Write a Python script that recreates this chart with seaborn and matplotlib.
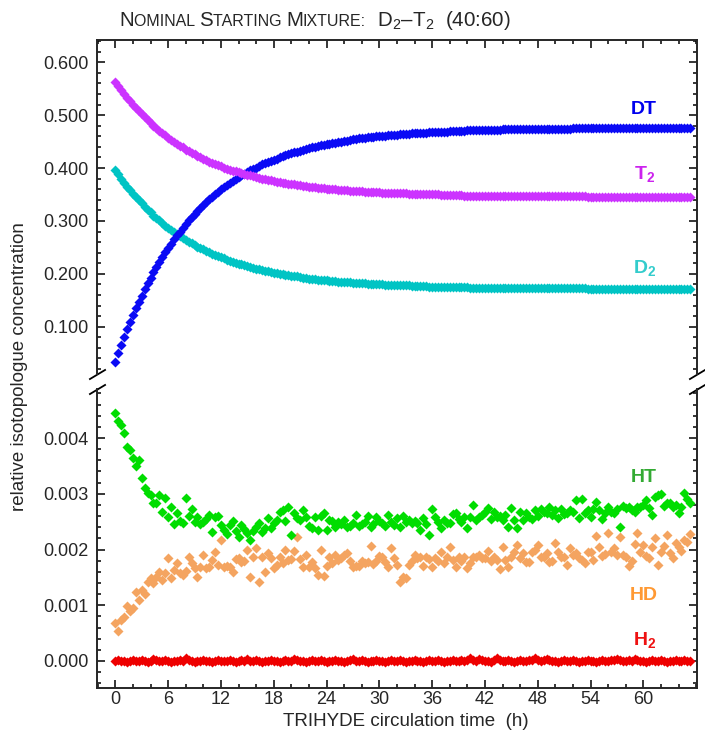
import numpy as np
import matplotlib
matplotlib.use('Agg')
import matplotlib.pyplot as plt
import seaborn as sns
from matplotlib import font_manager
from matplotlib.ticker import FixedLocator, MultipleLocator, FormatStrFormatter
from matplotlib.offsetbox import TextArea, HPacker, AnchoredOffsetbox

# relative concentrations, one sample every 20 minutes
# upper panel series in units of 0.001
dt_milli = [
    34, 50, 66, 81, 95, 109, 122, 135, 147, 159,
    171, 182, 193, 203, 213, 222, 232, 241, 249, 257,
    265, 273, 280, 287, 294, 301, 307, 313, 319, 325,
    331, 336, 341, 346, 350, 355, 360, 364, 368, 372,
    376, 379, 383, 386, 389, 392, 396, 399, 401, 404,
    407, 409, 412, 414, 416, 418, 420, 422, 424, 426,
    428, 430, 431, 433, 435, 436, 438, 439, 440, 442,
    443, 444, 445, 446, 447, 448, 449, 450, 451, 452,
    453, 454, 455, 456, 456, 457, 458, 458, 459, 460,
    460, 461, 461, 462, 462, 463, 463, 464, 464, 465,
    465, 466, 466, 466, 467, 467, 467, 468, 468, 468,
    469, 469, 469, 469, 470, 470, 470, 470, 470, 470,
    471, 471, 471, 471, 472, 472, 472, 472, 472, 472,
    472, 472, 473, 473, 473, 473, 473, 473, 473, 473,
    473, 473, 473, 474, 474, 474, 474, 474, 474, 474,
    474, 474, 474, 474, 474, 474, 475, 475, 475, 475,
    475, 475, 475, 475, 475, 475, 475, 475, 475, 475,
    475, 475, 475, 475, 475, 475, 476, 476, 476, 476,
    476, 476, 476, 476, 476, 476, 476, 476, 476, 476,
    476, 476, 476, 476, 476, 476, 476]

t2_milli = [
    563, 555, 548, 540, 533, 526, 520, 513, 507, 502,
    496, 490, 485, 480, 475, 470, 466, 462, 457, 453,
    450, 446, 442, 439, 435, 432, 429, 426, 423, 420,
    417, 415, 412, 410, 408, 405, 403, 401, 399, 397,
    395, 394, 392, 390, 389, 387, 386, 384, 383, 381,
    380, 379, 378, 377, 375, 374, 373, 372, 371, 370,
    370, 369, 368, 367, 366, 366, 365, 364, 364, 363,
    362, 362, 361, 361, 360, 360, 359, 359, 358, 358,
    357, 357, 356, 356, 356, 355, 355, 355, 354, 354,
    354, 353, 353, 353, 353, 352, 352, 352, 352, 352,
    351, 351, 351, 351, 351, 350, 350, 350, 350, 350,
    350, 349, 349, 349, 349, 349, 349, 349, 349, 348,
    348, 348, 348, 348, 348, 348, 348, 348, 348, 348,
    348, 347, 347, 347, 347, 347, 347, 347, 347, 347,
    347, 347, 347, 347, 347, 347, 347, 347, 347, 347,
    347, 347, 347, 347, 347, 347, 347, 347, 347, 347,
    347, 346, 346, 346, 346, 346, 346, 346, 346, 346,
    346, 346, 346, 346, 346, 346, 346, 346, 346, 346,
    346, 346, 346, 346, 346, 346, 346, 346, 346, 346,
    346, 346, 346, 346, 346, 346, 346]

d2_milli = [
    396, 388, 380, 372, 365, 358, 351, 345, 339, 333,
    327, 321, 316, 310, 305, 301, 296, 291, 287, 283,
    279, 275, 271, 268, 264, 261, 258, 254, 251, 249,
    246, 243, 241, 238, 236, 233, 231, 229, 227, 225,
    223, 221, 219, 218, 216, 214, 213, 211, 210, 209,
    207, 206, 205, 203, 202, 201, 200, 199, 198, 197,
    196, 195, 195, 194, 193, 192, 191, 191, 190, 189,
    189, 188, 188, 187, 186, 186, 185, 185, 184, 184,
    184, 183, 183, 182, 182, 182, 181, 181, 181, 180,
    180, 180, 179, 179, 179, 179, 178, 178, 178, 178,
    178, 177, 177, 177, 177, 177, 177, 176, 176, 176,
    176, 176, 175, 175, 175, 175, 175, 175, 175, 175,
    175, 174, 174, 174, 174, 174, 174, 174, 174, 174,
    174, 174, 174, 174, 174, 174, 173, 173, 173, 173,
    173, 173, 173, 173, 173, 173, 173, 173, 173, 173,
    173, 173, 173, 173, 173, 173, 173, 173, 173, 173,
    173, 172, 172, 172, 172, 172, 172, 172, 172, 172,
    172, 172, 172, 172, 172, 172, 172, 172, 172, 172,
    172, 172, 172, 172, 172, 172, 172, 172, 172, 172,
    172, 172, 172, 172, 172, 172, 172]

# lower panel series in units of 0.001 (H2 in units of 0.00001)
ht_milli = [
    4.45, 4.30, 4.24, 4.09, 3.84, 3.78, 3.64, 3.49, 3.60, 3.28, 3.10, 3.02,
    2.98, 2.83, 2.83, 2.98, 2.68, 2.92, 2.59, 2.77, 2.45, 2.65, 2.52, 2.47,
    2.92, 2.60, 2.72, 2.50, 2.59, 2.45, 2.50, 2.54, 2.62, 2.31, 2.59, 2.60,
    2.44, 2.35, 2.28, 2.44, 2.51, 2.33, 2.22, 2.44, 2.36, 2.30, 2.17, 2.33,
    2.40, 2.48, 2.32, 2.38, 2.56, 2.38, 2.47, 2.53, 2.68, 2.70, 2.52, 2.77,
    2.26, 2.65, 2.56, 2.53, 2.71, 2.59, 2.42, 2.38, 2.58, 2.35, 2.60, 2.66,
    2.35, 2.53, 2.52, 2.41, 2.50, 2.46, 2.53, 2.40, 2.42, 2.48, 2.62, 2.42,
    2.45, 2.50, 2.60, 2.41, 2.46, 2.59, 2.52, 2.48, 2.42, 2.62, 2.50, 2.44,
    2.56, 2.41, 2.60, 2.50, 2.53, 2.48, 2.52, 2.47, 2.35, 2.56, 2.45, 2.26,
    2.72, 2.59, 2.50, 2.38, 2.53, 2.47, 2.47, 2.64, 2.66, 2.55, 2.50, 2.59,
    2.38, 2.59, 2.80, 2.53, 2.59, 2.62, 2.68, 2.74, 2.54, 2.68, 2.59, 2.60,
    2.53, 2.62, 2.40, 2.74, 2.53, 2.38, 2.68, 2.53, 2.65, 2.58, 2.54, 2.71,
    2.60, 2.72, 2.68, 2.66, 2.76, 2.62, 2.70, 2.56, 2.72, 2.64, 2.66, 2.71,
    2.68, 2.88, 2.56, 2.90, 2.65, 2.70, 2.59, 2.72, 2.86, 2.70, 2.54, 2.65,
    2.76, 2.68, 2.66, 2.72, 2.40, 2.78, 2.74, 2.76, 2.70, 2.68, 2.76, 2.76,
    2.80, 2.89, 2.75, 2.62, 2.95, 2.98, 3.00, 2.78, 2.84, 2.84, 2.76, 2.80,
    2.65, 2.76, 3.02, 2.90, 2.84]

hd_milli = [
    0.68, 0.53, 0.74, 0.78, 0.98, 0.90, 0.95, 1.24, 1.10, 1.27, 1.20, 1.42,
    1.48, 1.39, 1.51, 1.60, 1.45, 1.57, 1.84, 1.48, 1.63, 1.76, 1.57, 1.54,
    1.62, 1.87, 1.75, 1.66, 1.51, 1.69, 1.90, 1.66, 1.69, 1.81, 1.96, 1.72,
    2.17, 1.69, 1.70, 1.69, 1.59, 1.83, 1.84, 1.78, 1.80, 1.99, 1.51, 1.87,
    2.02, 1.42, 1.87, 1.59, 1.93, 1.84, 1.66, 1.72, 1.86, 1.75, 1.99, 1.81,
    1.83, 1.98, 2.22, 1.83, 1.69, 1.90, 1.69, 1.78, 1.66, 1.54, 1.99, 1.53,
    1.71, 1.86, 1.75, 1.90, 1.81, 1.84, 1.90, 1.93, 1.80, 1.69, 1.71, 1.71,
    1.80, 1.75, 1.78, 2.06, 1.74, 1.80, 1.89, 1.87, 1.78, 1.69, 2.02, 1.84,
    1.72, 1.42, 1.51, 1.48, 1.72, 1.80, 1.90, 1.85, 1.87, 1.70, 1.87, 1.83,
    1.69, 1.84, 1.79, 1.96, 1.75, 1.87, 2.04, 1.81, 1.69, 1.87, 1.80, 1.87,
    1.66, 1.75, 1.87, 1.86, 1.90, 1.84, 1.84, 1.98, 1.80, 1.87, 1.81, 1.65,
    2.05, 1.81, 1.69, 1.87, 1.96, 2.08, 1.85, 1.93, 1.78, 1.78, 1.96, 1.99,
    2.08, 1.87, 1.87, 1.94, 1.78, 1.80, 2.11, 1.96, 1.87, 1.87, 1.72, 2.02,
    1.90, 1.93, 1.85, 1.81, 1.75, 1.96, 1.96, 1.82, 2.24, 2.05, 1.89, 1.92,
    2.30, 1.95, 2.02, 1.90, 2.22, 1.90, 1.87, 1.70, 1.80, 2.10, 2.29, 1.96,
    2.08, 1.89, 1.84, 2.05, 2.20, 1.72, 1.95, 2.06, 2.26, 1.94, 1.85, 2.11,
    2.05, 1.98, 2.17, 2.14, 2.28]

h2_e5 = [
    0, 1, 0, 0, -1, 0, 1, 0, 0, 1,
    0, -1, 0, 4, 1, 0, 0, 1, 0, -1,
    0, 0, 1, 0, 5, 1, 0, -1, 0, 0,
    1, 0, 0, -1, 0, 1, 0, 0, 0, 1,
    0, -1, 0, 1, 0, 4, 0, 0, 1, 0,
    -1, 0, 0, 1, 0, 0, -1, 0, 1, 0,
    0, 4, 1, 0, 0, -1, 0, 1, 0, 0,
    1, 0, -1, 0, 0, 1, 0, 0, -1, 0,
    1, 4, 0, 0, 1, 0, -1, 0, 0, 1,
    0, 0, -1, 0, 1, 0, 0, 1, 0, -1,
    0, 0, 1, 0, 0, -1, 0, 1, 0, 0,
    1, 0, -1, 0, 0, 1, 0, 0, 1, 0,
    1, 5, 1, 0, 4, 1, 0, 0, -1, 1,
    5, 2, 0, 0, 1, 0, -1, 0, 1, 0,
    0, 1, 2, 5, 1, 0, 1, 4, 1, 0,
    0, -1, 0, 1, 0, 0, 1, 0, -1, 0,
    0, 1, 0, 0, -1, 0, 1, 0, 0, 1,
    1, 4, 1, 0, 0, 1, 0, 4, 1, 0,
    0, -1, 0, 1, 0, 0, 1, 0, -1, 0,
    0, 1, 0, 0, 1, 0, 0]

hours = np.arange(len(dt_milli)) / 3.0   # 20 min sampling
dt = np.array(dt_milli) / 1000
t2 = np.array(t2_milli) / 1000
d2 = np.array(d2_milli) / 1000
ht = np.array(ht_milli) / 1000
hd = np.array(hd_milli) / 1000
h2 = np.array(h2_e5) / 100000

sns.set_style('ticks')
installed = {f.name for f in font_manager.fontManager.ttflist}
base_font = 'Liberation Sans' if 'Liberation Sans' in installed else 'DejaVu Sans'
narrow_font = 'Liberation Sans Narrow' if 'Liberation Sans Narrow' in installed else base_font
plt.rcParams['font.family'] = [base_font, 'DejaVu Sans']
plt.rcParams['mathtext.fontset'] = 'custom'
plt.rcParams['mathtext.rm'] = base_font
plt.rcParams['mathtext.bf'] = base_font + ':bold'
plt.rcParams['axes.linewidth'] = 1.4

fig = plt.figure(figsize=(7.05, 7.4), dpi=100)
ax_top = fig.add_axes([0.1376, 0.4946, 0.8511, 0.4513])
ax_bot = fig.add_axes([0.1376, 0.0703, 0.8511, 0.4040])

mk = dict(marker='D', s=26, linewidth=0, legend=False)
sns.scatterplot(x=hours, y=d2, color='#00c4c4', ax=ax_top, **mk)
sns.scatterplot(x=hours, y=dt, color='#0a0af5', ax=ax_top, **mk)
sns.scatterplot(x=hours, y=t2, color='#cc33ff', ax=ax_top, **mk)

sns.scatterplot(x=hours, y=h2, color='#ee0000', ax=ax_bot, **mk)
sns.scatterplot(x=hours, y=hd, color='#f4a460', ax=ax_bot, **mk)
sns.scatterplot(x=hours, y=ht, color='#00dd00', ax=ax_bot, **mk)

for ax in (ax_top, ax_bot):
    ax.set_xlim(-2.08, 66.1)
    ax.xaxis.set_major_locator(FixedLocator(np.arange(0, 61, 6)))
    ax.xaxis.set_minor_locator(MultipleLocator(2))
    ax.tick_params(which='both', direction='in', top=True, right=True,
                   width=1.1, color='black', labelsize=13, pad=6)
    ax.tick_params(which='major', length=6)
    ax.tick_params(which='minor', length=3)
    ax.set_xlabel('')
    ax.set_ylabel('')

ax_top.set_ylim(0.0106, 0.642)
ax_top.yaxis.set_major_locator(FixedLocator([0.1, 0.2, 0.3, 0.4, 0.5, 0.6]))
ax_top.yaxis.set_minor_locator(MultipleLocator(0.02))
ax_top.yaxis.set_major_formatter(FormatStrFormatter('%.3f'))
ax_top.spines['bottom'].set_visible(False)
ax_top.tick_params(which='both', bottom=False, labelbottom=False)

ax_bot.set_ylim(-0.000485, 0.00488)
ax_bot.yaxis.set_major_locator(FixedLocator([0, 0.001, 0.002, 0.003, 0.004]))
ax_bot.yaxis.set_minor_locator(MultipleLocator(0.0002))
ax_bot.yaxis.set_major_formatter(FormatStrFormatter('%.3f'))
ax_bot.spines['top'].set_visible(False)
ax_bot.tick_params(which='both', top=False)
ax_bot.tick_params(axis='x', pad=2)

# break marks on the axis
brk = dict(marker=[(-1, -0.6), (1, 0.6)], markersize=12, linestyle='none',
           color='k', mec='k', mew=1.3, clip_on=False)
ax_top.plot([0, 1], [0, 0], transform=ax_top.transAxes, **brk)
ax_bot.plot([0, 1], [1, 1], transform=ax_bot.transAxes, **brk)

# series labels
lab = dict(ha='center', va='baseline', fontsize=14, fontweight='bold')
ax_top.text(60.1, 0.503, 'DT', color='#0000ee', **lab)
ax_top.text(60.1, 0.379, r'$\mathbf{T_2}$', color='#cc22ee', **lab)
ax_top.text(60.1, 0.201, r'$\mathbf{D_2}$', color='#33cccc', **lab)
ax_bot.text(60.1, 0.00322, 'HT', color='#33aa33', **lab)
ax_bot.text(60.1, 0.00110, 'HD', color='#ff9933', **lab)
ax_bot.text(60.1, 0.00029, r'$\mathbf{H_2}$', color='#ee1111', **lab)

fig.text(0.028, 0.505, 'relative isotopologue concentration', rotation=90,
         ha='center', va='center', fontsize=13.5)
fig.text(0.576, 0.0245, 'TRIHYDE circulation time  (h)', ha='center',
         va='center', fontsize=13.5)

# small-caps title
big, small = 14.8, 11.5
parts = [('N', big), ('OMINAL ', small), ('S', big), ('TARTING ', small),
         ('M', big), ('IXTURE:', small), ('  D$_2$\u2013T$_2$  (40:60)', big)]
areas = [TextArea(t, textprops=dict(size=s, family=narrow_font)) for t, s in parts]
box = HPacker(children=areas, align='baseline', pad=0, sep=0)
fig.add_artist(AnchoredOffsetbox(loc='center', child=box, frameon=False,
                                 bbox_to_anchor=(0.447, 0.972),
                                 bbox_transform=fig.transFigure))

fig.savefig('out.png', dpi=100)
